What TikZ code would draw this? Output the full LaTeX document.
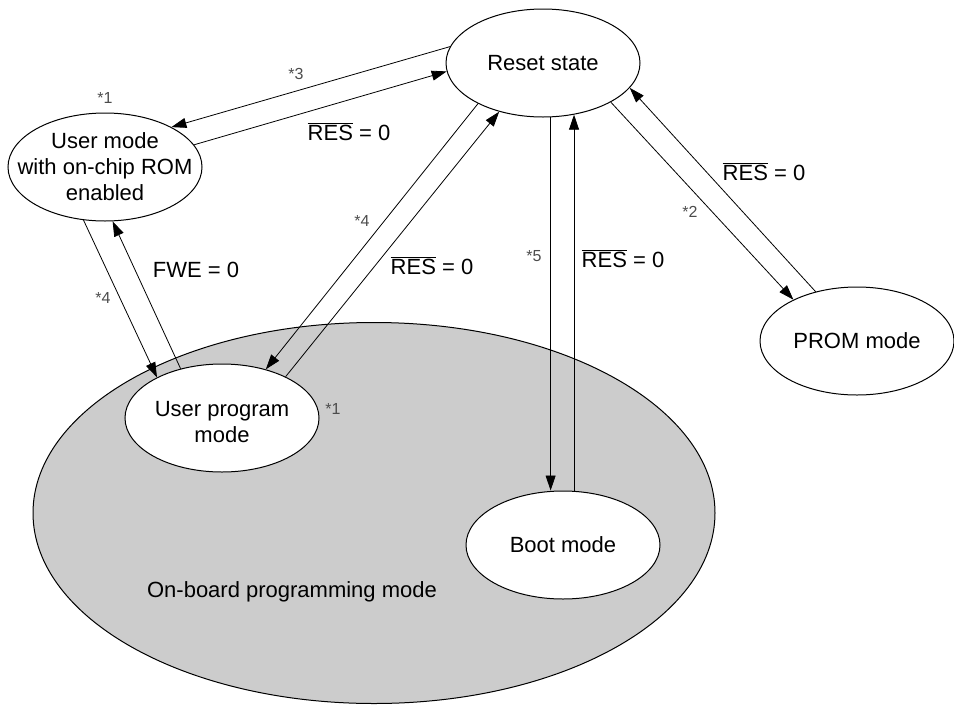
\documentclass[tikz,border=0pt]{standalone}
\usepackage{fontspec}
\setmainfont{Liberation Sans}
\usetikzlibrary{shapes.geometric,arrows.meta}
\begin{document}
\begin{tikzpicture}[x=1pt,y=-1pt,
  state/.style={ellipse, draw, line width=1pt, fill=white, minimum width=194pt, minimum height=108pt, inner sep=0pt},
  txt/.style={font=\fontsize{22}{26}\selectfont, align=center},
  note/.style={font=\fontsize{16}{18}\selectfont, text=black!70, inner sep=0pt, anchor=base},
  cond/.style={font=\fontsize{22}{26}\selectfont, inner sep=0pt, anchor=base},
  arr/.style={line width=0.8pt, -{Triangle[length=15pt,width=10pt]}}]
\useasboundingbox (0,0) rectangle (954,705);
% big region
\node[state, fill=black!20, minimum width=682pt, minimum height=381pt] (board) at (374,513) {};
\node[txt] (boardtxt) at (292,592) {On-board programming mode};
% states
\node[state, label={[txt]center:Reset state}] (reset) at (543,63) {};
\node[state, label={[txt]center:User mode\\with on-chip ROM\\enabled}] (user) at (105,167) {};
\node[state, label={[txt,yshift=-4pt]center:User program\\mode}] (prog) at (222,418) {};
\node[state, label={[txt]center:Boot mode}] (boot) at (563,545) {};
\node[state, label={[txt]center:PROM mode}] (prom) at (857,341) {};
% connectors
\draw[arr] (reset.170.4) -- (user.31.1);
\draw[arr] (user.14.6) -- (reset.185.7);
\draw[arr] (user.248.6) -- (prog.148.1);
\draw[arr] (prog.130) -- (user.278.1);
\draw[arr] (reset.212.5) -- (prog.48.6);
\draw[arr] (prog.33.5) -- (reset.228);
\draw[arr] (reset.278.4) -- (reset.278.4 |- boot.north);
\draw[arr] (boot.north -| reset.301.9) -- (reset.301.9);
\draw[arr] (reset.330.6) -- (prom.147.8);
\draw[arr] (prom.130.8) -- (reset.344.3);
% notes
\node[note] (n1a) at (105,103) {*1};
\node[note] (n3) at (296,79) {*3};
\node[note] (n4a) at (103,303) {*4};
\node[note] (n4b) at (362,226) {*4};
\node[note] (n1b) at (333,414) {*1};
\node[note] (n5) at (534,261) {*5};
\node[note] (n2) at (690,217) {*2};
% conditions
\node[cond] (c1) at (349,140) {$\overline{\hbox{RES}}$ = 0};
\node[cond] (c2) at (196,277) {FWE = 0};
\node[cond] (c3) at (432,274) {$\overline{\hbox{RES}}$ = 0};
\node[cond] (c4) at (623,267) {$\overline{\hbox{RES}}$ = 0};
\node[cond] (c5) at (764,180) {$\overline{\hbox{RES}}$ = 0};
\end{tikzpicture}
\end{document}
